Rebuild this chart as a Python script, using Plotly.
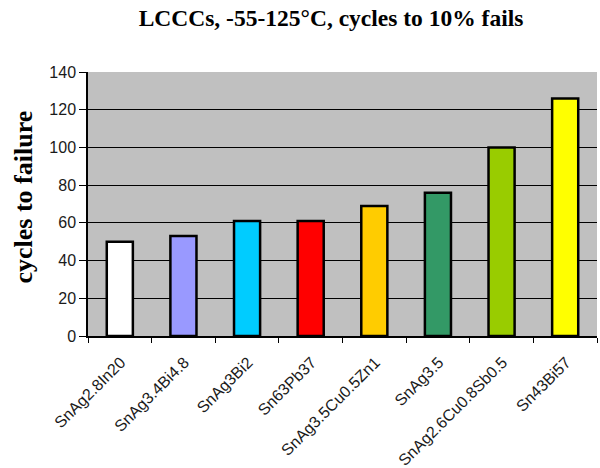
import plotly.graph_objects as go

categories = ["SnAg2.8In20", "SnAg3.4Bi4.8", "SnAg3Bi2", "Sn63Pb37",
              "SnAg3.5Cu0.5Zn1", "SnAg3.5", "SnAg2.6Cu0.8Sb0.5", "Sn43Bi57"]
values = [50, 53, 61, 61, 69, 76, 100, 126]
colors = ["#ffffff", "#9999ff", "#00ccff", "#ff0000",
          "#ffcc00", "#339966", "#99cc00", "#ffff00"]
y_ticks = [0, 20, 40, 60, 80, 100, 120, 140]

W, H = 600, 468
L, R, T, B = 88, 3, 72, 132

fig = go.Figure(go.Bar(
    x=categories, y=values,
    marker=dict(color=colors, line=dict(color="black", width=2.5)),
    width=0.41,
))

fig.update_layout(
    width=W, height=H,
    margin=dict(l=L, r=R, t=T, b=B, pad=0),
    paper_bgcolor="white",
    plot_bgcolor="#c0c0c0",
    showlegend=False,
    font=dict(family="Liberation Sans, Arial", size=15, color="#1a1a1a"),
    title=dict(text="<b>LCCCs, -55-125°C, cycles to 10% fails</b>",
               x=331 / W, xanchor="center", y=1 - 18 / H, yanchor="middle",
               font=dict(family="Liberation Serif, Times New Roman", size=23.5, color="black")),
    annotations=[dict(
        text="<b>cycles to failure</b>", textangle=-90,
        xref="paper", yref="paper",
        x=(23 - L) / (W - L - R), y=(H - B - 197.5) / (H - T - B),
        xanchor="center", yanchor="middle",
        showarrow=False,
        font=dict(family="Liberation Serif, Times New Roman", size=26, color="black"),
    )],
)

fig.update_xaxes(
    type="category", tickangle=-45,
    ticks="outside", tickson="boundaries", ticklen=5, tickcolor="black", tickwidth=1,
    ticklabelstandoff=9, ticklabelshift=1,
    showline=True, linecolor="black", linewidth=1.5,
    showgrid=False, automargin=False,
    tickfont=dict(family="Liberation Sans, Arial", size=16, color="#1a1a1a"),
)
fig.update_yaxes(
    range=[0, 140], tickvals=y_ticks,
    ticks="outside", ticklen=7, tickcolor="black", tickwidth=1,
    showline=True, linecolor="black", linewidth=1.5,
    showgrid=True, gridcolor="black", gridwidth=1,
    zeroline=False, automargin=False,
    tickfont=dict(family="Liberation Sans, Arial", size=16, color="#1a1a1a"),
)

fig.write_html("out.html")
